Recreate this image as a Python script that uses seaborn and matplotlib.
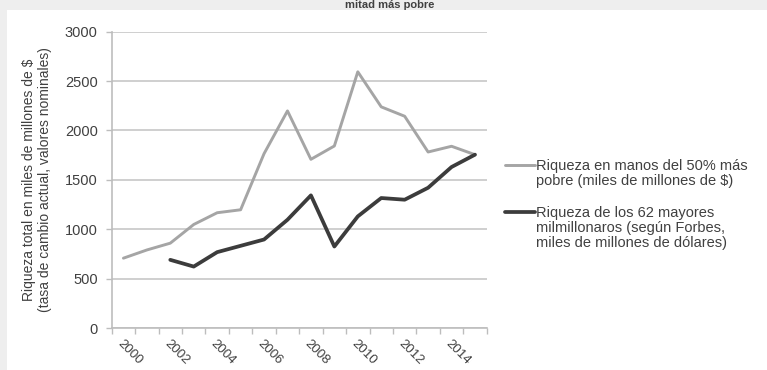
import numpy as np
import pandas as pd
import matplotlib
matplotlib.use("Agg")
import matplotlib.pyplot as plt
from matplotlib.lines import Line2D
from matplotlib.patches import Rectangle
import seaborn as sns

# Series values (miles de millones de $)
years = list(range(2000, 2016))
pobre_50 = [707, 790, 859, 1048, 1167, 1197, 1765, 2198, 1708, 1843,
            2594, 2239, 2144, 1782, 1840, 1755]
years_62 = list(range(2002, 2016))
top_62 = [690, 622, 768, 832, 896, 1096, 1343, 825, 1130, 1316,
          1299, 1420, 1630, 1755]

label_pobre = "Riqueza en manos del 50% más\npobre (miles de millones de $)"
label_top = "Riqueza de los 62 mayores\nmilmillonaros (según Forbes,\nmiles de millones de dólares)"
ylabel = "Riqueza total en miles de millones de $\n(tasa de cambio actual, valores nominales)"
title = "mitad más pobre"
yticks = [0, 500, 1000, 1500, 2000, 2500, 3000]
xtick_years = list(range(2000, 2016, 2))

df = pd.concat([
    pd.DataFrame({"año": years, "riqueza": pobre_50, "serie": "pobre"}),
    pd.DataFrame({"año": years_62, "riqueza": top_62, "serie": "top"}),
])

sns.set_theme(style="white")
plt.rcParams["font.family"] = ["Liberation Sans", "DejaVu Sans"]

W, H = 767, 370
TXT = "#404040"
fig = plt.figure(figsize=(W / 100, H / 100), dpi=100, facecolor="#eeeeee")
# white chart area
fig.patches.append(Rectangle((7 / W, 0), 1, 1 - 10 / H, transform=fig.transFigure,
                             facecolor="white", edgecolor="none", zorder=-5))

ax = fig.add_axes([111.7 / W, 1 - 328 / H, 375 / W, (328 - 31.7) / H])
ax.set_facecolor("none")
ax.set_zorder(2)

grey_line = "#a5a5a5"
dark_line = "#3c3c3c"
sns.lineplot(data=df, x="año", y="riqueza", hue="serie",
             palette={"pobre": grey_line, "top": dark_line},
             legend=False, ax=ax)
ax.lines[0].set_linewidth(2.1)
ax.lines[1].set_linewidth(2.7)

ax.set_xlim(1999.5, 2015.5)
ax.set_ylim(0, 3000)
ax.set_yticks(yticks)
ax.set_yticklabels([str(v) for v in yticks])
ax.yaxis.grid(True, color="#cccccc", linewidth=1.3)
ax.set_axisbelow(True)

ax.set_xticks(xtick_years)
ax.set_xticklabels([str(y) for y in xtick_years], rotation=-45, ha="left", va="top",
                   rotation_mode="anchor")
ax.set_xticks(np.arange(1999.5, 2016.0, 1.0), minor=True)
ax.tick_params(axis="x", which="major", length=0, pad=7, labelsize=9.5, labelcolor=TXT)
ax.tick_params(axis="x", which="minor", length=4, width=1, color="#bdbdbd", direction="out",
               bottom=True)
ax.tick_params(axis="y", length=4, width=1, color="#bdbdbd", labelsize=10.5,
               labelcolor=TXT, pad=6, left=True, direction="out")

for side in ["top", "right"]:
    ax.spines[side].set_visible(False)
for side in ["left", "bottom"]:
    ax.spines[side].set_color("#bdbdbd")
    ax.spines[side].set_linewidth(1.2)

ax.set_xlabel("")
ax.set_ylabel(ylabel, fontsize=10, color=TXT, linespacing=1.25, labelpad=9)

# title along the top edge
fig.text(390 / W, 1.0, title, ha="center", va="top", fontsize=8,
         fontweight="bold", color=TXT)

# legend
for y_line, col, lw in [(165, grey_line, 2.1), (212, dark_line, 2.7)]:
    fig.add_artist(Line2D([505 / W, 535 / W], [1 - y_line / H, 1 - y_line / H],
                          transform=fig.transFigure, color=col, linewidth=lw))
fig.text(536 / W, 1 - 159 / H, label_pobre, ha="left", va="top", fontsize=10.5,
         color=TXT, linespacing=1.1)
fig.text(536 / W, 1 - 206 / H, label_top, ha="left", va="top", fontsize=10.5,
         color=TXT, linespacing=1.1)

fig.savefig("out.png", dpi=100, facecolor=fig.get_facecolor())
